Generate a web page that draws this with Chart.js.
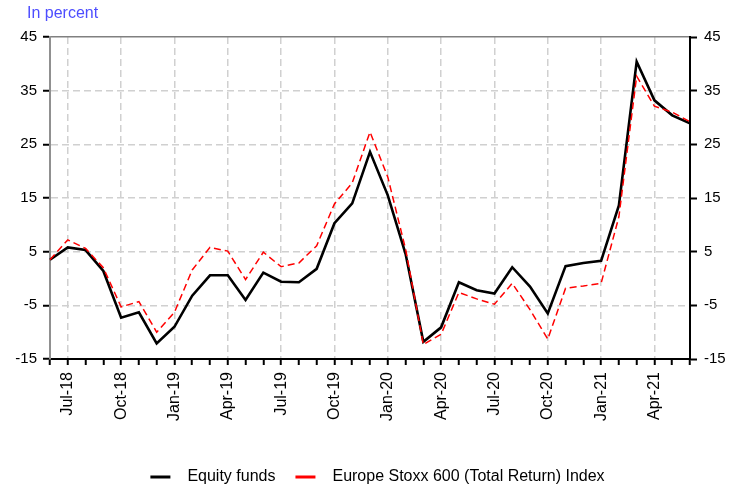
<!DOCTYPE html>
<html>
<head>
<meta charset="utf-8">
<script src="https://cdn.jsdelivr.net/npm/chart.js@4"></script>
<style>
html,body{margin:0;padding:0;background:#fff;}
#wrap{width:737px;height:488px;}
</style>
</head>
<body>
<div id="wrap"><canvas id="c" width="737" height="488"></canvas></div>
<script>
const months = ['Jun-18','Jul-18','Aug-18','Sep-18','Oct-18','Nov-18','Dec-18',
  'Jan-19','Feb-19','Mar-19','Apr-19','May-19','Jun-19','Jul-19','Aug-19','Sep-19','Oct-19','Nov-19','Dec-19',
  'Jan-20','Feb-20','Mar-20','Apr-20','May-20','Jun-20','Jul-20','Aug-20','Sep-20','Oct-20','Nov-20','Dec-20',
  'Jan-21','Feb-21','Mar-21','Apr-21','May-21','Jun-21'];
const tickLabels = ['Jul-18','Oct-18','Jan-19','Apr-19','Jul-19','Oct-19','Jan-20','Apr-20','Jul-20','Oct-20','Jan-21','Apr-21'];
const equityFunds = [3.5, 5.8, 5.3, 1.4, -7.3, -6.3, -12.1, -9.0, -3.2, 0.6, 0.6, -4.0, 1.1, -0.6, -0.7, 1.8, 10.3, 14.0, 23.6, 15.5, 4.6, -11.8, -9.1, -0.7, -2.2, -2.8, 2.1, -1.5, -6.5, 2.3, 2.9, 3.3, 13.6, 40.4, 33.2, 30.4, 28.9];
const stoxx600 = [3.5, 7.2, 5.6, 2.0, -5.3, -4.3, -10.0, -6.3, 1.6, 5.8, 5.1, -0.2, 4.9, 2.2, 2.9, 6.1, 13.9, 17.8, 27.3, 18.9, 5.5, -12.3, -10.4, -2.6, -3.8, -4.8, -0.9, -5.8, -11.3, -1.8, -1.4, -0.9, 11.5, 37.7, 32.1, 31.0, 29.2];
const yTicks = [-15, -5, 5, 15, 25, 35, 45];
const seriesNames = ['Equity funds', 'Europe Stoxx 600 (Total Return) Index'];
const unitLabel = 'In percent';

const FONT = '"Liberation Sans", Arial, Helvetica, sans-serif';
Chart.defaults.font.family = FONT;
Chart.defaults.color = '#000';

const GRID = '#d0d0d0';

const titlePlugin = {
  id: 'unitTitle',
  afterDraw(chart) {
    const ctx = chart.ctx;
    ctx.save();
    ctx.font = '16px ' + FONT;
    ctx.fillStyle = '#4d4dff';
    ctx.textBaseline = 'middle';
    ctx.textAlign = 'left';
    ctx.fillText(unitLabel, 27, 14);
    ctx.restore();
  }
};

const legendPlugin = {
  id: 'bottomLegend',
  afterDraw(chart) {
    const ctx = chart.ctx;
    ctx.save();
    ctx.font = '16px ' + FONT;
    ctx.textBaseline = 'middle';
    ctx.textAlign = 'left';
    const items = chart.data.datasets.slice().sort((a,b)=>a.legendIndex-b.legendIndex);
    const markW = 20, gap = 17, itemGap = 20;
    let total = 0;
    items.forEach((d,i) => {
      total += markW + gap + ctx.measureText(d.label).width + (i < items.length-1 ? itemGap : 0);
    });
    let x = 377.5 - total/2;
    const y = 477;
    items.forEach(d => {
      ctx.fillStyle = d.borderColor;
      ctx.fillRect(x, y - 1.5, markW, 3);
      ctx.fillStyle = '#000';
      ctx.fillText(d.label, x + markW + gap, y);
      x += markW + gap + ctx.measureText(d.label).width + itemGap;
    });
    ctx.restore();
  }
};

new Chart(document.getElementById('c'), {
  type: 'line',
  data: {
    labels: months,
    datasets: [
      {
        label: seriesNames[1], legendIndex: 1,
        data: stoxx600, borderColor: '#ff0000', backgroundColor: '#ff0000',
        borderWidth: 1.5, borderDash: [7, 4], pointRadius: 0, tension: 0, order: 0, yAxisID: 'y'
      },
      {
        label: seriesNames[0], legendIndex: 0,
        data: equityFunds, borderColor: '#000000', backgroundColor: '#000000',
        borderWidth: 2.6, pointRadius: 0, tension: 0, order: 1, yAxisID: 'y',
        borderJoinStyle: 'miter'
      }
    ]
  },
  options: {
    responsive: false,
    animation: false,
    events: [],
    layout: { padding: { top: 37, left: 0, right: 0, bottom: 0 } },
    plugins: { legend: { display: false }, tooltip: { enabled: false }, title: { display: false } },
    scales: {
      x: {
        type: 'category',
        offset: false,
        grid: {
          color: (c) => (c.tick && tickLabels.includes(c.tick.label) ? GRID : 'rgba(0,0,0,0)'),
          lineWidth: 1.5,
          drawOnChartArea: true,
          drawTicks: true,
          tickLength: 6,
          tickColor: '#000',
          tickWidth: 2,
          tickBorderDash: []
        },
        border: { display: true, color: '#000', width: 2, dash: [7, 4] },
        ticks: {
          autoSkip: false,
          maxRotation: 90,
          minRotation: 90,
          padding: 7,
          font: { size: 16 },
          color: '#000',
          callback: function(v) {
            const l = this.getLabelForValue(v);
            return tickLabels.includes(l) ? l : '';
          }
        },
        afterFit: (s) => { s.height = 129; }
      },
      y: {
        position: 'left',
        min: -15, max: 45,
        afterBuildTicks: (s) => { s.ticks = yTicks.map(v => ({ value: v })); },
        grid: {
          color: (c) => (c.tick && c.tick.value === 45 ? '#808080' : GRID),
          lineWidth: 1.5,
          tickLength: 7,
          tickColor: '#000',
          tickWidth: 2,
          tickBorderDash: []
        },
        border: { display: true, color: '#909090', width: 2,
          dash: (c) => (c.tick && c.tick.value === 45 ? [] : [7, 4]) },
        ticks: { padding: 6, font: { size: 15 }, color: '#000' },
        afterFit: (s) => { s.width = 50; }
      },
      y2: {
        position: 'right',
        min: -15, max: 45,
        afterBuildTicks: (s) => { s.ticks = yTicks.map(v => ({ value: v })); },
        grid: {
          drawOnChartArea: false,
          tickLength: 7,
          tickColor: '#000',
          tickWidth: 2
        },
        border: { display: true, color: '#000', width: 2 },
        ticks: { padding: 7, font: { size: 15 }, color: '#000' },
        afterFit: (s) => { s.width = 47; }
      }
    }
  },
  plugins: [titlePlugin, legendPlugin]
});
</script>
</body>
</html>
